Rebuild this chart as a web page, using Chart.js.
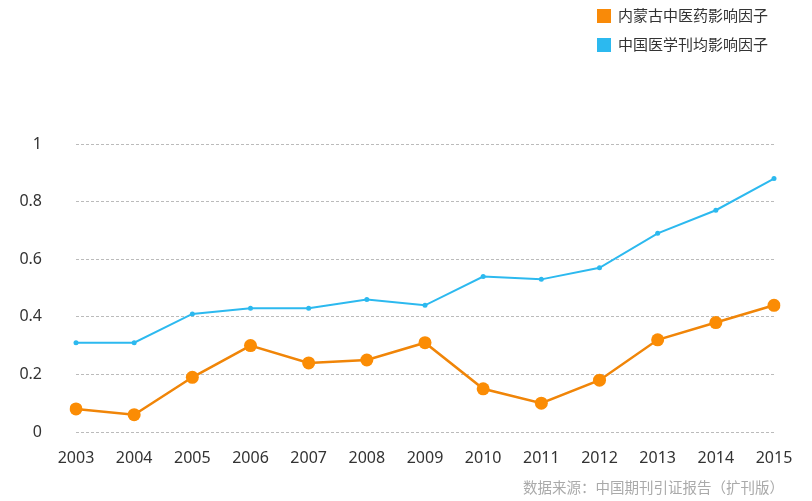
<!DOCTYPE html>
<html lang="zh">
<head>
    <meta charset="UTF-8">
    <title>影响因子</title>
    <script src="https://cdn.jsdelivr.net/npm/chart.js"></script>
    <style>
        body { margin: 0; background: #fff; }
        #wrap { position: relative; width: 812px; height: 501px; }
        .legend { position: absolute; left: 597px; font: 15px "Noto Sans CJK SC", sans-serif; color: #333; }
        .legend span { display: inline-block; width: 14px; height: 14px; vertical-align: -2px; margin-right: 7px; }
        #source { position: absolute; right: 28px; top: 476px; font: 14.5px "Noto Sans CJK SC", sans-serif; color: #aaa; }
    </style>
</head>
<body>
    <div id="wrap">
        <canvas id="chart" width="812" height="501"></canvas>
        <div class="legend" style="top:4px"><span style="background:#f98a08"></span>内蒙古中医药影响因子</div>
        <div class="legend" style="top:33px"><span style="background:#2cb9ef"></span>中国医学刊均影响因子</div>
        <div id="source">数据来源：中国期刊引证报告（扩刊版）</div>
    </div>

    <script>
        const years = ['2003', '2004', '2005', '2006', '2007', '2008', '2009', '2010', '2011', '2012', '2013', '2014', '2015'];
        const neimenggu = [0.08, 0.06, 0.19, 0.30, 0.24, 0.25, 0.31, 0.15, 0.10, 0.18, 0.32, 0.38, 0.44];
        const zhongguo = [0.31, 0.31, 0.41, 0.43, 0.43, 0.46, 0.44, 0.54, 0.53, 0.57, 0.69, 0.77, 0.88];

        const ctx = document.getElementById('chart').getContext('2d');
        new Chart(ctx, {
            type: 'line',
            data: {
                labels: years,
                datasets: [{
                    label: '内蒙古中医药影响因子',
                    data: neimenggu,
                    borderColor: '#f08508',
                    backgroundColor: '#fb8c04',
                    borderWidth: 2.5,
                    pointRadius: 6.5,
                    pointBorderWidth: 0,
                    pointBackgroundColor: '#fb8c04'
                }, {
                    label: '中国医学刊均影响因子',
                    data: zhongguo,
                    borderColor: '#2cb9ef',
                    backgroundColor: '#2cb9ef',
                    borderWidth: 2,
                    pointRadius: 2.5,
                    pointBorderWidth: 0,
                    pointBackgroundColor: '#2cb9ef'
                }]
            },
            options: {
                responsive: false,
                animation: false,
                layout: { padding: { top: 144, right: 38, left: 0, bottom: 0 } },
                plugins: { legend: { display: false }, tooltip: { enabled: false } },
                scales: {
                    x: {
                        offset: false,
                        grid: { display: false, drawTicks: false },
                        border: { display: false },
                        ticks: { padding: 17, color: '#333', font: { family: 'Noto Sans', size: 16 }, maxRotation: 0 },
                        afterFit: s => { s.height = 69; }
                    },
                    y: {
                        min: 0,
                        max: 1,
                        ticks: {
                            stepSize: 0.2, padding: 34, color: '#333',
                            font: { family: 'Noto Sans', size: 16 },
                            callback: v => String(Math.round(v * 10) / 10)
                        },
                        grid: { color: '#bbb', drawTicks: false, lineWidth: 1 },
                        border: { display: false, dash: [3, 2] },
                        afterFit: s => { s.width = 76; }
                    }
                }
            }
        });
    </script>
</body>
</html>
